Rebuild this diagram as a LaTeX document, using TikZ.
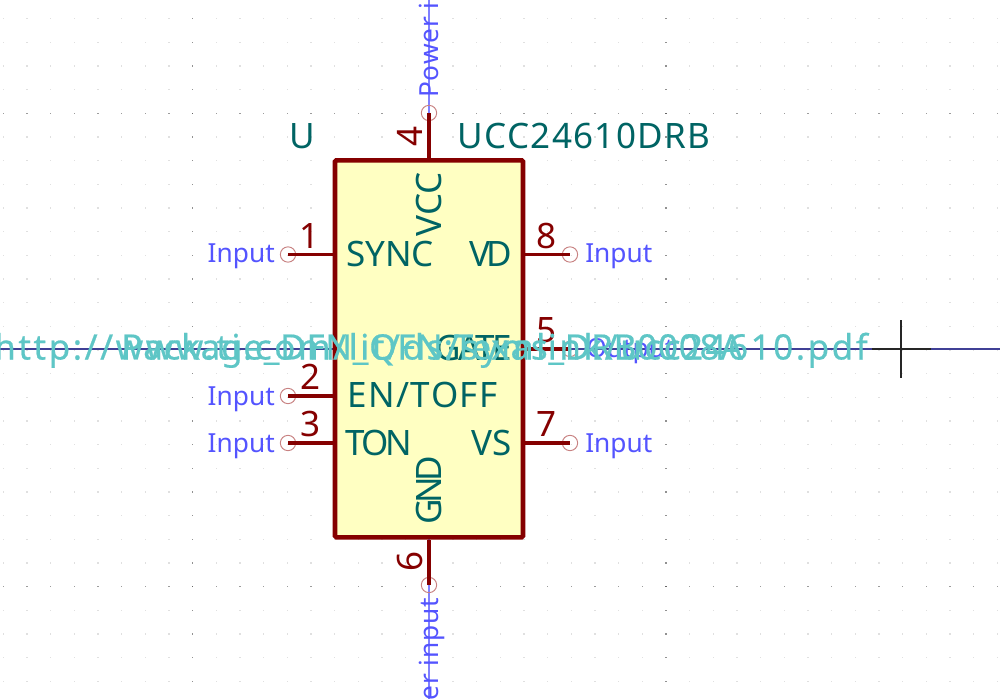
\documentclass[tikz,border=0pt]{standalone}
\usepackage{fontspec}
\setmainfont{Noto Sans}
\newcommand{\bodyred}{red!52!black}
\newcommand{\spaced}[2]{{\addfontfeatures{LetterSpace=#1}#2}}
\newcommand{\hiddenspaced}[2]{{\addfontfeatures{LetterSpace=#1,FakeBold=.5}#2}}
\definecolor{bodyfill}{RGB}{255,255,194}
\definecolor{pinnamecol}{RGB}{0,100,100}
\definecolor{pintypecol}{RGB}{84,84,255}
\definecolor{hiddencol}{RGB}{94,198,198}
\definecolor{pinendcol}{RGB}{200,130,130}
\tikzset{
  bigfont/.style = {font = \fontsize{26.25}{30}\selectfont},
  smallfont/.style = {font = \fontsize{19.7}{24}\selectfont},
  griddot/.style = {draw = none, fill = black, fill opacity = .12},
  pinline/.style = {draw = \bodyred, line width = 2.6pt},
  pinend/.style = {circle, draw = pinendcol, line width = .7pt, minimum size = 11.5pt, inner sep = 0pt},
  pinnum/.style = {bigfont, text = \bodyred, anchor = base},
  pinname/.style = {bigfont, text = pinnamecol, inner sep = 0pt},
  pintype/.style = {smallfont, text = pintypecol, inner sep = 0pt},
  fieldtext/.style = {bigfont, text = pinnamecol, inner sep = 0pt},
  hiddentext/.style = {bigfont, text = hiddencol, inner sep = 0pt, anchor = base}
}
\begin{document}
\begin{tikzpicture}[x = .75pt, y = -.75pt]
\useasboundingbox (0,0) rectangle (1000,699);
\clip (0,0) rectangle (1000,699);
\fill[white] (0,0) rectangle (1000,699);
% grid
\foreach \i in {0,...,42} {
  \foreach \j in {0,...,28} {
    \fill[griddot] (2.6+23.67*\i,18+23.67*\j) rectangle ++(1.4,1.4);
  }
}
\foreach \i in {8,28} {
  \foreach \j in {0,...,28} {
    \fill[griddot, fill opacity = .35] (2.6+23.67*\i,18+23.67*\j) rectangle ++(1.4,1.4);
  }
}
\foreach \j in {4,24} {
  \foreach \i in {0,...,42} {
    \fill[griddot, fill opacity = .3] (2.6+23.67*\i,18+23.67*\j) rectangle ++(1.4,1.4);
  }
}
% axes
\coordinate (axisleft) at (0,349);
\coordinate (axisright) at (1000,349);
\coordinate (axistop) at (429,0);
\coordinate (axisbottom) at (429,699);
\draw[blue!45!black!75, line width = .8pt] (axisleft) -- (axisright);
\draw[blue!50!white, line width = .8pt] (axistop) -- (axisbottom);
% cursor
\coordinate (cursorwest) at (872,349);
\coordinate (cursoreast) at (931,349);
\coordinate (cursornorth) at (901,320);
\coordinate (cursorsouth) at (901,378);
\draw[black!85, line width = .8pt] (cursorwest) -- (cursoreast);
\draw[black!85, line width = .8pt] (cursornorth) -- (cursorsouth);
% symbol
\node[draw = \bodyred, fill = bodyfill, line width = 3.4pt, rounded corners = 1pt,
  minimum width = 141pt, minimum height = 282.75pt, inner sep = 0pt] (body) at (429,348.8) {};
\node[pinend] (pinone) at (288,254.5) {};
\node[pinend] (pintwo) at (288,396) {};
\node[pinend] (pinthree) at (288,443) {};
\node[pinend] (pineight) at (570,254.5) {};
\node[pinend] (pinfive) at (570,349) {};
\node[pinend] (pinseven) at (570,443) {};
\node[pinend] (pinfour) at (429,113) {};
\node[pinend] (pinsix) at (429,585) {};
\foreach \p in {pinone,pintwo,pinthree} {
  \draw[pinline] (\p.center) -- (\p.center -| body.west);
}
\foreach \p in {pineight,pinfive,pinseven} {
  \draw[pinline] (\p.center) -- (\p.center -| body.east);
}
\draw[pinline] (pinfour.center) -- (pinfour.center |- body.north);
\draw[pinline] (pinsix.center) -- (pinsix.center |- body.south);
% pin numbers
\node[pinnum] (numone) at (310,248) {1};
\node[pinnum] (numtwo) at (311,389) {2};
\node[pinnum] (numthree) at (311,436) {3};
\node[pinnum] (numeight) at (547,248) {8};
\node[pinnum] (numfive) at (547,342) {5};
\node[pinnum] (numseven) at (547,436) {7};
\node[pinnum, rotate = 90] (numfour) at (422,136) {4};
\node[pinnum, rotate = 90] (numsix) at (422,561.5) {6};
% pin names
\node[pinname, anchor = base west] (namesync) at (346,266.7) {SYNC};
\node[pinname, anchor = base west] (nameen) at (347,407.7) {\spaced{4.3}{EN/TOFF}};
\node[pinname, anchor = base west] (nameton) at (345,455) {\spaced{-8}{TON}};
\node[pinname, anchor = base east] (namevd) at (512,266.7) {\spaced{-12}{VD}};
\node[pinname, anchor = base east] (namegate) at (512,360) {\spaced{-8}{GATE}};
\node[pinname, anchor = base east] (namevs) at (512,455) {VS};
\node[pinname, anchor = base east, rotate = 90] (namevcc) at (441.7,172) {VCC};
\node[pinname, anchor = base west, rotate = 90] (namegnd) at (441.7,525) {\spaced{-12}{GND}};
% pin types
\node[pintype, anchor = base east] (typeone) at (275,262.7) {Input};
\node[pintype, anchor = base east] (typetwo) at (275,405) {Input};
\node[pintype, anchor = base east] (typethree) at (275,452) {Input};
\node[pintype, anchor = base west] (typeeight) at (585,262.7) {Input};
\node[pintype, anchor = base west] (typefive) at (586,357) {Output};
\node[pintype, anchor = base west] (typeseven) at (585,452) {Input};
\node[pintype, anchor = base west, rotate = 90] (typefour) at (438,98) {\spaced{3}{Power input}};
\node[pintype, anchor = base east, rotate = 90] (typesix) at (438,598) {\spaced{3}{Power input}};
% fields
\node[fieldtext, anchor = base] (fieldref) at (302,148) {U};
\node[fieldtext, anchor = base west] (fieldvalue) at (457,148) {\spaced{4}{UCC24610DRB}};
\node[hiddentext] (fieldfootprint) at (432,359.5) {\hiddenspaced{2.2}{Package\_DFN\_QFN:Texas\_DRB0008A}};
\node[hiddentext] (fielddatasheet) at (431,359.5) {\hiddenspaced{7.2}{http://www.ti.com/lit/ds/symlink/ucc24610.pdf}};
\end{tikzpicture}
\end{document}
